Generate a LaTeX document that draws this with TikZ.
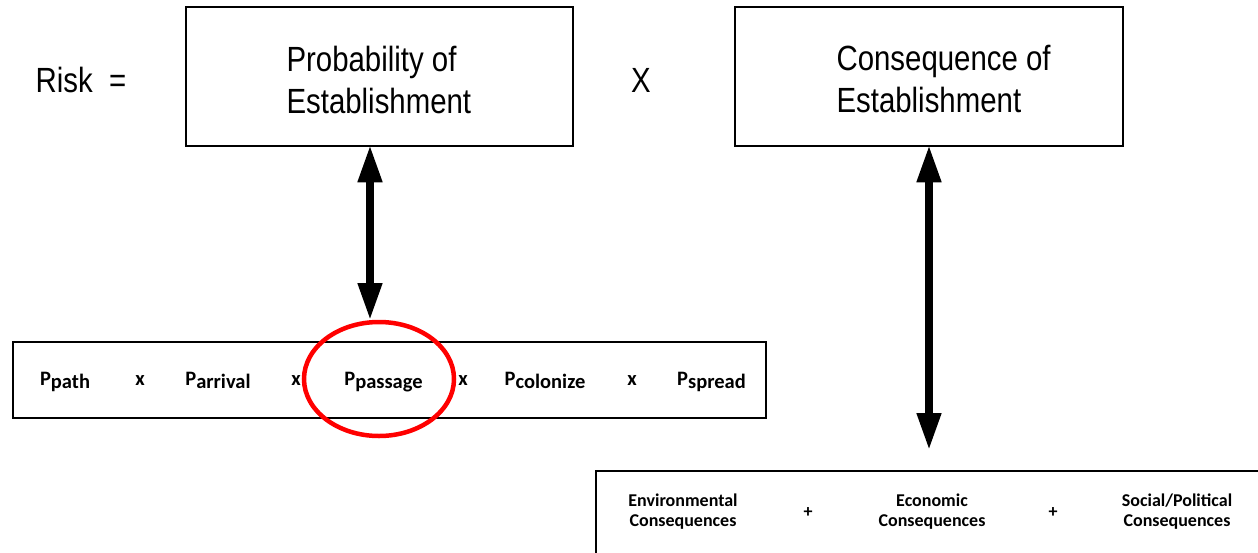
\documentclass[tikz,border=0pt]{standalone}
\usepackage{fontspec}
\setmainfont{Liberation Sans}
\newfontfamily\narrowfont[FakeStretch=0.84]{Liberation Sans}
\newfontfamily\calib{Carlito}
\usetikzlibrary{arrows.meta,shapes.geometric}
\newcommand{\psub}[1]{P\raisebox{-3.3pt}{#1}}
\tikzset{
  bigbox/.style={draw, line width=1.5pt, inner sep=0pt},
  bigtext/.style={font=\narrowfont\fontsize{35}{42}\selectfont, align=left},
  ptext/.style={font=\calib\bfseries\fontsize{20.5}{20.5}\selectfont, anchor=base},
  ctext/.style={font=\calib\bfseries\fontsize{18}{20}\selectfont, align=center},
  dblarrow/.style={line width=7.5pt, {Triangle[width=23pt,length=37pt]}-{Triangle[width=23pt,length=37pt]}},
}
\begin{document}
\begin{tikzpicture}[x=1pt,y=-1pt]
\useasboundingbox (0,0) rectangle (1258,552);
\clip (0,0) rectangle (1258,552);
% top boxes
\node[bigbox, minimum width=387pt, minimum height=139pt] (prob) at (379.5,76.5) {};
\node[bigtext, anchor=west] (probt) at (283,79.5) {Probability of\\Establishment};
\node[bigbox, minimum width=388pt, minimum height=139pt] (cons) at (929,76.5) {};
\node[bigtext, anchor=west] (const) at (833,79.5) {Consequence of\\Establishment};
\node[bigtext] (risk) at (81,80) {Risk\ \ =};
\node[bigtext] (times) at (641,80) {X};
% bottom-left box
\node[draw, line width=2pt, minimum width=753pt, minimum height=76pt, inner sep=0pt] (pbox) at (389.5,380) {};
\node[ptext] (p1) at (65,385) {\psub{path}};
\node[ptext] (x1) at (140,385) {x};
\node[ptext] (p2) at (218,385) {\psub{arrival}};
\node[ptext] (x2) at (296,385) {x};
\node[ptext] (p3) at (383.5,385) {\psub{passage}};
\node[ptext] (x3) at (463,385) {x};
\node[ptext] (p4) at (545,385) {\psub{colonize}};
\node[ptext] (x4) at (632,385) {x};
\node[ptext] (p5) at (711.5,385) {\psub{spread}};
% red ellipse
\node[draw=red, line width=4.5pt, ellipse, minimum width=150pt, minimum height=114pt, inner sep=0pt] (circ) at (379,379) {};
\coordinate (ctop) at (370,320);
% bottom-right box
\draw[line width=2pt] (1270,471) -- (596,471) -- (596,560);
\coordinate (cbtop) at (929,471);
\node[ctext] (c1) at (683,512) {Environmental\\Consequences};
\node[ctext] (plus1) at (808,513) {+};
\node[ctext] (c2) at (932,512) {Economic\\Consequences};
\node[ctext] (plus2) at (1053,513) {+};
\node[ctext] (c3) at (1177,512) {Social/Political\\Consequences};
% arrows
\draw[dblarrow] ([yshift=1.5pt]prob.south -| ctop) -- (ctop);
\draw[dblarrow, shorten >=21pt] ([yshift=1.5pt]cons.south) -- (cbtop);
\end{tikzpicture}
\end{document}
